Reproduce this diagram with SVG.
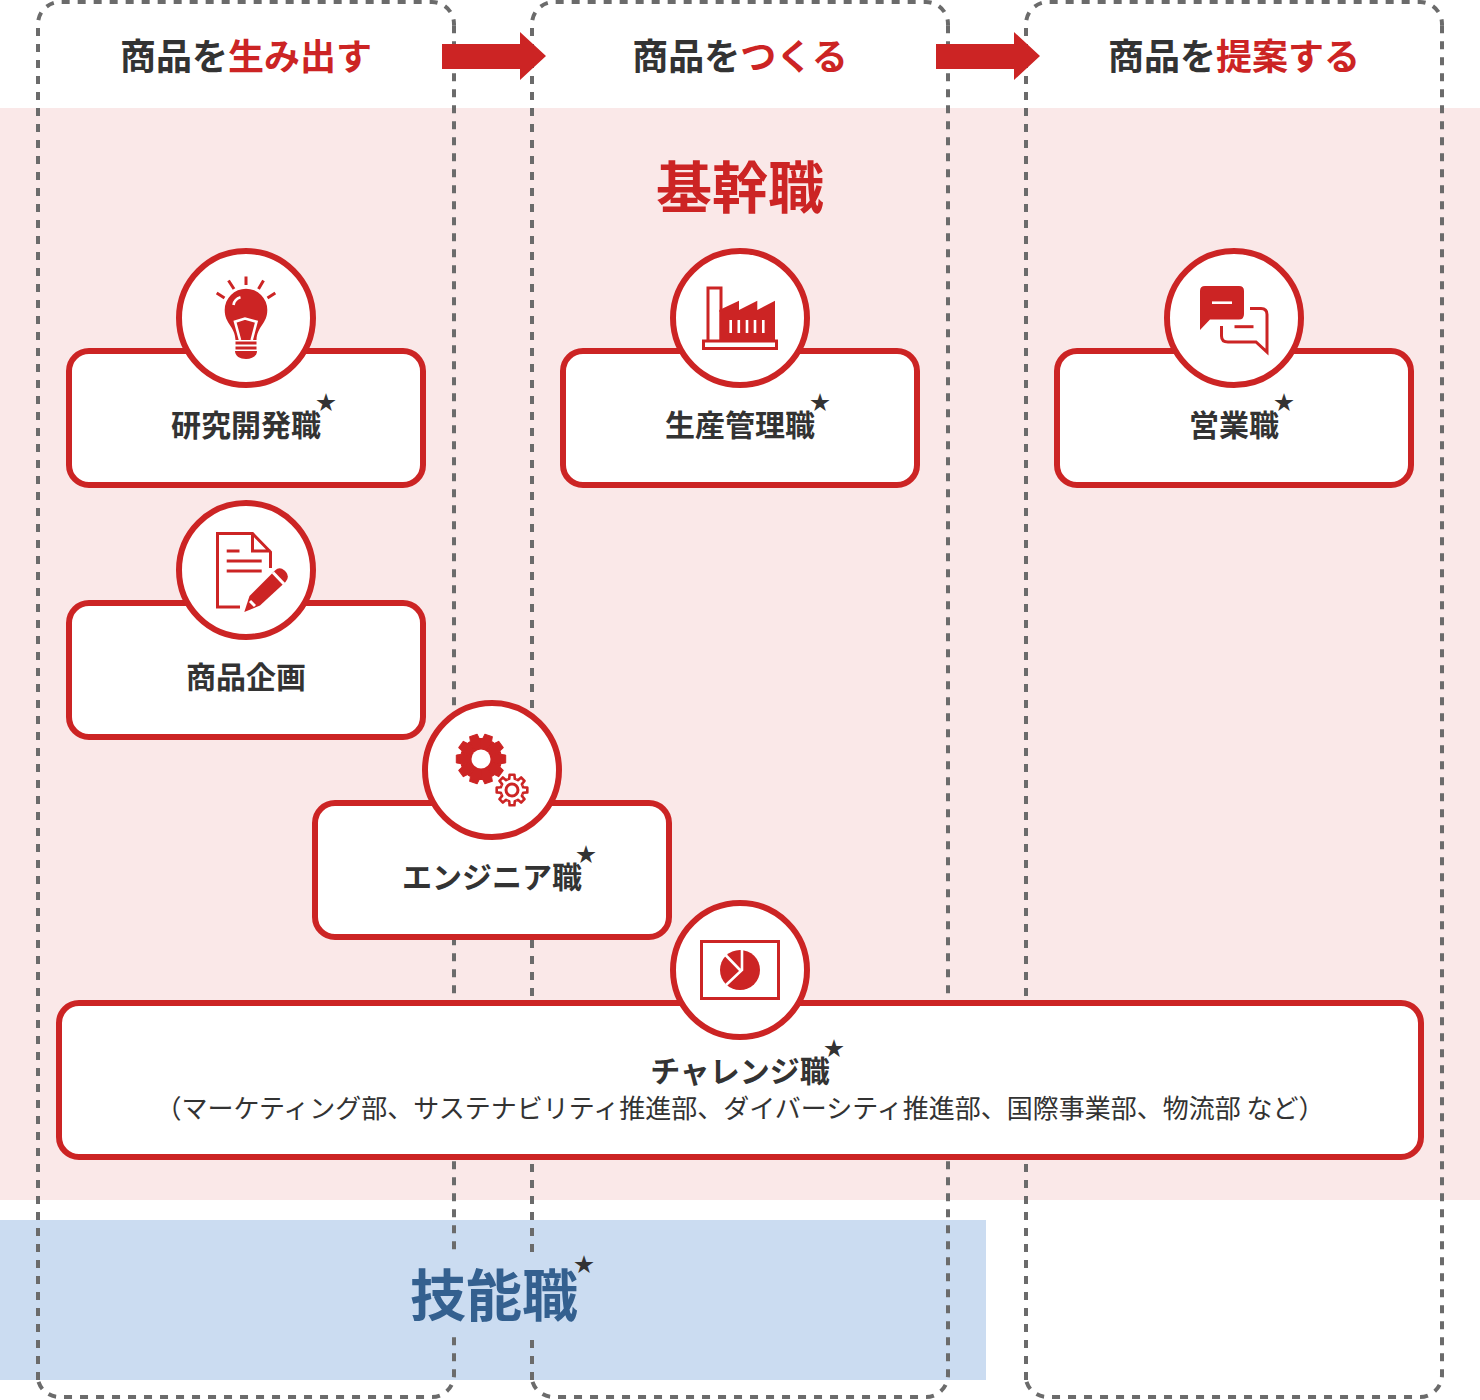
<svg xmlns="http://www.w3.org/2000/svg" xmlns:xlink="http://www.w3.org/1999/xlink" width="1480" height="1400" viewBox="0 0 1480 1400">
<style>
text{font-family:"Noto Sans CJK JP","Noto Sans",sans-serif;text-anchor:middle;fill:#333}
.h{font-size:36px;font-weight:700}
.r{fill:#cc2424}
.l{font-size:30px;font-weight:700}
.s{font-size:26px;font-weight:400}
.big{font-size:56px;font-weight:700}
.star{font-size:20px}
.frame{fill:none;stroke:#6b6b6b;stroke-width:4;stroke-dasharray:8 8}
.box{fill:#fff;stroke:#cc2424;stroke-width:6}
.o{fill:none;stroke:#cc2424;stroke-linecap:butt;stroke-width:3}
.w{fill:none;stroke:#fff;stroke-width:2.6}
.f{fill:#cc2424}
</style>
<defs>
<g id="tooth"><path d="M0 0L19.5 -6.33L19.97 -4.61L24.69 -3.91L24.69 3.91L19.97 4.61L19.5 6.33Z" fill="#cc2424" stroke="#cc2424" stroke-linejoin="round"/></g>
<path id="tooth2" d="M10.62 -4.4L11.16 -2.78L15.31 -2.42L15.31 2.42L11.16 2.78L10.62 4.4" fill="none" stroke="#cc2424" stroke-width="2.6" stroke-linejoin="round"/>
<g id="frame">
<path class="frame" d="M38 1380V24A22 22 0 0 1 60 2H432A22 22 0 0 1 454 24V25.300"/>
<path class="frame" d="M454 25.300V1375A22 22 0 0 1 432 1397H60A22 22 0 0 1 38 1380"/>
</g>
</defs>
<g id="bands">
<rect x="0" y="108" width="1480" height="1092" fill="#fae8e8"/>
<rect x="0" y="1220" width="986" height="160" fill="#cbdcf1"/>
</g>
<g id="frames">
<use xlink:href="#frame"/>
<use xlink:href="#frame" x="494"/>
<use xlink:href="#frame" x="988"/>
<rect x="405" y="1252" width="180" height="84" fill="#cbdcf1"/>
</g>
<g id="connectors">
<path class="f" d="M442 44H520V32L546 56L520 80V69H442Z"/>
<path class="f" d="M936 44H1014V32L1040 56L1014 80V69H936Z"/>
</g>
<g id="col1"><text class="h" x="246" y="70">商品を<tspan class="r">生み出す</tspan></text></g>
<g id="col2"><text class="h" x="740" y="70">商品を<tspan class="r">つくる</tspan></text></g>
<g id="col3"><text class="h" x="1234" y="70">商品を<tspan class="r">提案する</tspan></text></g>
<g id="kikan"><text class="big r" x="740" y="208">基幹職</text></g>
<g id="ginou"><text class="big" style="fill:#34608f" x="494" y="1316">技能職</text><text class="star" x="584" y="1272">★</text></g>

<g id="node-kenkyu">
<rect class="box" x="69" y="351" width="354" height="134" rx="20"/>
<circle class="box" cx="246" cy="318" r="67"/>
<path class="o" d="M246 276.500V285M228.500 280.500L234 289M263.500 280.500L258.500 289M216.700 293L224.500 298M275.300 293L267.500 298"/>
<path class="f" d="M235.500 340C235 326 224.700 324 224.700 310A21.300 21.300 0 1 1 267.300 310C267.300 324 257 326 256.500 340Z"/>
<path class="w" d="M240 340L235 321.700L245 318.500L256.500 321.700L251.700 340"/>
<path class="w" d="M233.500 305Q234.500 299 240.500 297.300"/>
<path class="o" d="M235.500 343H256.500M235.500 348H256.500" stroke-width="2.600"/>
<path class="f" d="M235 351H257C257 356 252 359 246 359C240 359 235 356 235 351Z"/>
<text class="l" x="246" y="436">研究開発職</text><text class="star" x="326" y="410">★</text>
</g>
<g id="node-kikaku">
<rect class="box" x="69" y="603" width="354" height="134" rx="20"/>
<circle class="box" cx="246" cy="570" r="67"/>
<path class="o" d="M240 607H217.500V533.500H252.500L270.500 552V568M252.500 533.500V551H270.500M226.700 551H239.500M226.700 561H261.700M226.700 571H261.700"/>
<path class="f" d="M244.300 612L249.500 596L275 570.500Q279.500 566 284.500 570.500L286 572Q290 577 285.500 582L260 605.500Z"/>
<path class="o" d="M273 572.500L284 584" style="stroke:#fff" stroke-width="2"/>
<path class="o" d="M250 601L255 606" style="stroke:#fff" stroke-width="2"/>
<text class="l" x="246" y="688">商品企画</text>
</g>
<g id="node-seisan">
<rect class="box" x="563" y="351" width="354" height="134" rx="20"/>
<circle class="box" cx="740" cy="318" r="67"/>
<path class="o" d="M708 340V288H721V312"/>
<rect class="o" x="703.500" y="341" width="73" height="7.500"/>
<path class="f" d="M719.300 310L739 300.700V310L757.300 300.700V310L775 300.700V340H719.300Z"/>
<path class="w" stroke-width="3" d="M730.700 320V333M738.800 320V333M747 320V333M755 320V333M763.300 320V333"/>
<text class="l" x="740" y="436">生産管理職</text><text class="star" x="820" y="410">★</text>
</g>
<g id="node-eigyo">
<rect class="box" x="1057" y="351" width="354" height="134" rx="20"/>
<circle class="box" cx="1234" cy="318" r="67"/>
<path class="f" d="M1205 286H1239Q1244 286 1244 291V314Q1244 319.500 1239 319.500H1210L1200 330V291Q1200 286 1205 286Z"/>
<path class="w" d="M1212 302.700H1232"/>
<path class="o" d="M1250 308.500H1261Q1267 308.500 1267 314.500V352L1256 342H1228Q1221.500 342 1221.500 336V326"/>
<path class="o" d="M1234.500 326.700H1253.500"/>
<text class="l" x="1234" y="436">営業職</text><text class="star" x="1284" y="410">★</text>
</g>
<g id="node-engineer">
<rect class="box" x="315" y="803" width="354" height="134" rx="20"/>
<circle class="box" cx="492" cy="770" r="67"/>
<g transform="translate(481 759)">
<use xlink:href="#tooth" transform="rotate(0)"/><use xlink:href="#tooth" transform="rotate(36)"/><use xlink:href="#tooth" transform="rotate(72)"/><use xlink:href="#tooth" transform="rotate(108)"/><use xlink:href="#tooth" transform="rotate(144)"/><use xlink:href="#tooth" transform="rotate(180)"/><use xlink:href="#tooth" transform="rotate(216)"/><use xlink:href="#tooth" transform="rotate(252)"/><use xlink:href="#tooth" transform="rotate(288)"/><use xlink:href="#tooth" transform="rotate(324)"/>
<circle r="9.500" fill="#fff"/>
</g>
<g transform="translate(512 790)">
<use xlink:href="#tooth2" transform="rotate(0)"/><use xlink:href="#tooth2" transform="rotate(45)"/><use xlink:href="#tooth2" transform="rotate(90)"/><use xlink:href="#tooth2" transform="rotate(135)"/><use xlink:href="#tooth2" transform="rotate(180)"/><use xlink:href="#tooth2" transform="rotate(225)"/><use xlink:href="#tooth2" transform="rotate(270)"/><use xlink:href="#tooth2" transform="rotate(315)"/>
<circle r="6" class="o" stroke-width="2.600"/>
</g>
<text class="l" x="492" y="888">エンジニア職</text><text class="star" x="586" y="862">★</text>
</g>
<g id="node-challenge">
<rect class="box" x="59" y="1003" width="1362" height="154" rx="20"/>
<circle class="box" cx="740" cy="970" r="67"/>
<rect class="o" x="701.500" y="941.500" width="77" height="57"/>
<circle class="f" cx="740" cy="970" r="20"/>
<path class="w" d="M742 949V970L726 985M725 954.500L740 970"/>
<text class="l" x="740" y="1082">チャレンジ職</text><text class="star" x="834" y="1056">★</text>
<text class="s" x="740" y="1118">（マーケティング部、サステナビリティ推進部、ダイバーシティ推進部、国際事業部、物流部 など）</text>
</g>
</svg>
